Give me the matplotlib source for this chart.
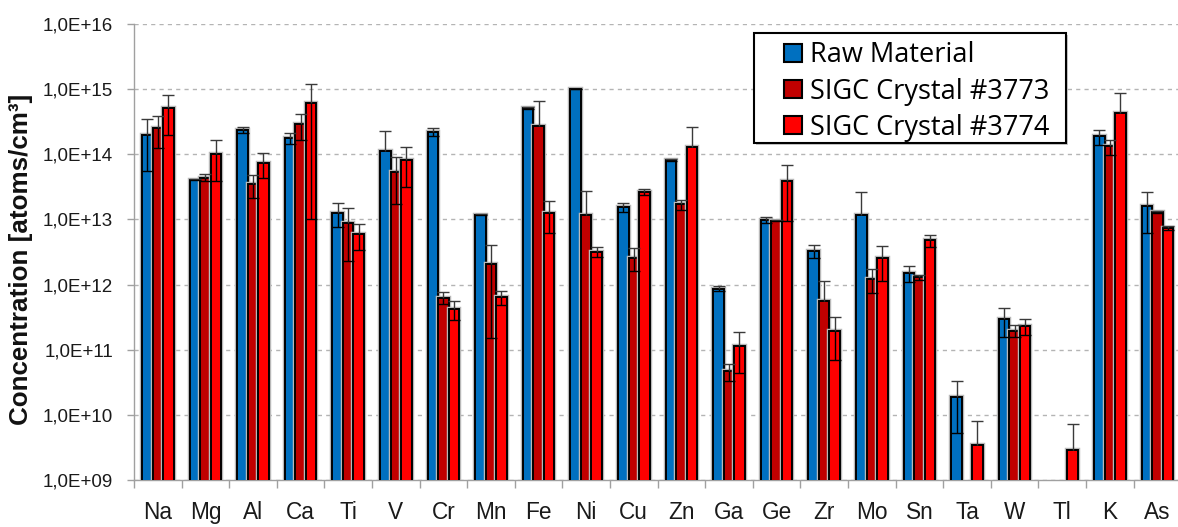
import numpy as np
import matplotlib
matplotlib.use("Agg")
import matplotlib.pyplot as plt
import matplotlib.patheffects as pe
from matplotlib.patches import Rectangle
from matplotlib.legend_handler import HandlerPatch
from matplotlib.ticker import FixedLocator, FuncFormatter, NullLocator

# ---------------- data ----------------
elements = ["Na", "Mg", "Al", "Ca", "Ti", "V", "Cr", "Mn", "Fe", "Ni", "Cu",
            "Zn", "Ga", "Ge", "Zr", "Mo", "Sn", "Ta", "W", "Tl", "K", "As"]

series_names = ["Raw Material", "SIGC Crystal #3773", "SIGC Crystal #3774"]

raw_material = [2.0e14, 4.1e13, 2.35e14, 1.78e14, 1.27e13, 1.12e14, 2.2e14,
                1.18e13, 5.1e14, 1.0e15, 1.53e13, 8.2e13, 8.7e11, 9.9e12,
                3.3e12, 1.18e13, 1.5e12, 1.9e10, 2.95e11, np.nan, 1.9e14, 1.63e13]
raw_material_err = [1.45e14, 1.0e12, 2.5e13, 3.4e13, 5.0e12, 1.15e14, 3.0e13,
                    3.0e11, 2.0e13, 1.0e13, 2.3e12, 2.0e12, 7.0e10, 1.1e12,
                    7.0e11, 1.43e13, 4.0e11, 1.38e10, 1.4e11, np.nan, 5.0e13, 1.0e13]

crystal_3773 = [2.56e14, 4.4e13, 3.5e13, 2.88e14, 8.7e12, 5.4e13, 6.3e11,
                2.1e12, 2.7e14, 1.16e13, 2.6e12, 1.71e13, 4.7e10, 9.6e12,
                5.5e11, 1.23e12, 1.29e12, np.nan, 1.96e11, np.nan, 1.33e14, 1.3e13]
crystal_3773_err = [1.3e14, 5.0e12, 1.35e13, 1.23e14, 6.4e12, 3.7e13, 1.3e11,
                    1.95e12, 3.9e14, 1.55e13, 1.0e12, 3.0e12, 1.4e10, 3.0e11,
                    5.9e11, 4.9e11, 1.2e11, np.nan, 4.0e10, np.nan, 3.5e13, 3.0e11]

crystal_3774 = [5.1e14, 1.02e14, 7.3e13, 6.07e14, 5.9e12, 8.1e13, 4.2e11,
                6.4e11, 1.26e13, 3.16e12, 2.64e13, 1.29e14, 1.14e11, 3.85e13,
                1.96e11, 2.53e12, 4.8e12, 3.4e9, 2.34e11, 2.9e9, 4.26e14, 7.3e12]
crystal_3774_err = [3.1e14, 6.3e13, 3.0e13, 5.97e14, 2.5e12, 5.0e13, 1.3e11,
                    1.6e11, 6.5e12, 5.5e11, 2.5e12, 1.37e14, 7.0e10, 2.9e13,
                    1.26e11, 1.4e12, 1.0e12, 4.6e9, 6.5e10, 4.3e9, 4.4e14, 5.0e11]

colors = ["#0070C0", "#C00000", "#FF0000"]

# ---------------- figure ----------------
W, H, DPI = 1178, 527, 100
fig = plt.figure(figsize=(W / DPI, H / DPI), dpi=DPI)

ax_left, ax_top, ax_bottom = 134, 24, 480
cat_w = 47.6
ax_right = ax_left + cat_w * len(elements)
ax = fig.add_axes([ax_left / W, 1 - ax_bottom / H,
                   (ax_right - ax_left) / W, (ax_bottom - ax_top) / H])

ax.set_yscale("log")
ax.set_ylim(1e9, 1e16)
ax.set_xlim(-0.5, len(elements) - 0.5)

x = np.arange(len(elements))
bw = 0.22
offsets = [-bw, 0.0, bw]
all_vals = [raw_material, crystal_3773, crystal_3774]
all_errs = [raw_material_err, crystal_3773_err, crystal_3774_err]

err_col = "#3a3a3a"
handles = []
for vals, errs, off, col, name in zip(all_vals, all_errs, offsets, colors, series_names):
    v = np.array(vals, dtype=float)
    e = np.array(errs, dtype=float)
    xs = x + off
    bars = ax.bar(xs, v, width=bw, bottom=0, color=col, edgecolor="black",
                  linewidth=1.4, zorder=3, label=name)
    for b in bars:
        b.set_path_effects([pe.Stroke(linewidth=3.2, foreground="#b8b8b8"), pe.Normal()])
    handles.append(bars)
    # upper error bars (always drawn)
    top = v + e
    ax.vlines(xs, v, top, colors=err_col, linewidth=1.0, zorder=4)
    ax.plot(xs, top, linestyle="none", marker="_", markersize=8,
            markeredgewidth=1.0, color=err_col, zorder=4)
    # lower error bars only when value - err stays positive (log axis)
    ok = e < v
    low = np.where(ok, v - e, np.nan)
    ax.vlines(xs[ok], v[ok], low[ok], colors="black", linewidth=1.0, zorder=4)
    ax.plot(xs[ok], low[ok], linestyle="none", marker="_", markersize=8,
            markeredgewidth=1.0, color="black", zorder=4)

# grid
ax.yaxis.grid(True, which="major", linestyle=(0, (3, 3)), color="#b4b4b4",
              linewidth=1.0, zorder=0)
ax.set_axisbelow(True)

# spines
for s in ["top", "right"]:
    ax.spines[s].set_visible(False)
for s in ["left", "bottom"]:
    ax.spines[s].set_color("#a0a0a0")
    ax.spines[s].set_linewidth(1.0)

# y ticks
ax.yaxis.set_major_locator(FixedLocator([10.0 ** k for k in range(9, 17)]))
ax.yaxis.set_minor_locator(NullLocator())
ax.yaxis.set_major_formatter(FuncFormatter(lambda v, p: "1,0E+%02d" % int(round(np.log10(v)))))
ax.tick_params(axis="y", which="major", length=5, width=1, color="#a0a0a0",
               pad=10, labelsize=13.5, labelcolor="#1a1a1a")
for t in ax.get_yticklabels():
    t.set_fontfamily("Liberation Sans")

# x ticks
ax.set_xticks(x)
ax.set_xticklabels(elements, fontfamily="Liberation Sans", fontsize=16.3, color="#1a1a1a")
ax.set_xticks(np.arange(-0.5, len(elements) + 0.5, 1.0), minor=True)
ax.tick_params(axis="x", which="major", length=0, pad=15)
ax.tick_params(axis="x", which="minor", length=6, width=1, color="#a0a0a0")

# y label
fig.text(21 / W, 1 - 259 / H, "Concentration [atoms/cm³]", rotation=90,
         ha="center", va="center", fontsize=18.7, fontweight="bold",
         fontfamily="Liberation Sans", color="#111111")

# legend (frame drawn separately to match the box exactly)
lx0, ly0, lx1, ly1 = 754, 33, 1066, 143
frame = Rectangle((lx0 / W, 1 - ly1 / H), (lx1 - lx0) / W, (ly1 - ly0) / H,
                  transform=fig.transFigure, facecolor="white", edgecolor="black",
                  linewidth=1.5, zorder=10,
                  path_effects=[pe.SimplePatchShadow(offset=(1.5, -1.5), shadow_rgbFace="#c8c8c8", alpha=1), pe.Normal()])
fig.patches.append(frame)

def square_patch(legend, orig_handle, xdescent, ydescent, width, height, fontsize):
    side = 13.0
    return Rectangle((width - side - xdescent, (height - side) / 2 - ydescent),
                     side, side)

leg = fig.legend(handles=[h.patches[0] for h in handles], labels=series_names,
                 loc="upper left", bbox_to_anchor=(lx0 / W, 1 - (ly0 + 3) / H),
                 bbox_transform=fig.transFigure, borderaxespad=0,
                 prop={"family": "Open Sans", "size": 19.5},
                 frameon=False,
                 handlelength=1.58, handleheight=0.67, handletextpad=0.3,
                 labelspacing=0.3, borderpad=0.2,
                 handler_map={Rectangle: HandlerPatch(patch_func=square_patch)})
leg.set_zorder(11)
for p in leg.get_patches():
    p.set_linewidth(1.5)
    p.set_path_effects([])

fig.savefig("out.png", dpi=DPI)
